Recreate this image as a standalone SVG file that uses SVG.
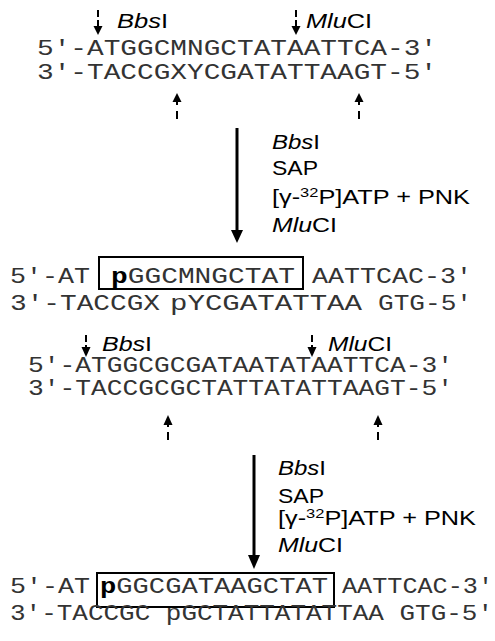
<svg xmlns="http://www.w3.org/2000/svg" width="495" height="641" viewBox="0 0 495 641">
<style>
.seq{font-family:"Liberation Mono",monospace;font-size:22px;fill:#333}
.b{font-weight:bold;fill:#000}
.lab{font-family:"Liberation Sans",Arial,sans-serif;font-size:20px;fill:#000}
.it{font-style:italic}
.sup{font-size:13px}
.ln{stroke:#000;stroke-width:2;fill:none}
.main{stroke:#000;stroke-width:3;fill:none}
.box{stroke:#000;stroke-width:2;fill:none}
.hd{fill:#000}
</style>
<rect width="495" height="641" fill="#fff"/>

<g id="section1">
  <g id="top-labels">
    <text class="lab" x="117" y="28" textLength="51" lengthAdjust="spacingAndGlyphs"><tspan class="it">Bbs</tspan>I</text>
    <text class="lab" x="306" y="28" textLength="66" lengthAdjust="spacingAndGlyphs"><tspan class="it">Mlu</tspan>CI</text>
  </g>
  <g id="seq1">
    <text class="seq" x="37" y="55" textLength="400" lengthAdjust="spacingAndGlyphs">5′-ATGGCMNGCTATAATTCA-3′</text>
    <text class="seq" x="37" y="79" textLength="400" lengthAdjust="spacingAndGlyphs">3′-TACCGXYCGATATTAAGT-5′</text>
  </g>
</g>

<g id="reagents1">
  <text class="lab" x="272" y="149" textLength="48" lengthAdjust="spacingAndGlyphs"><tspan class="it">Bbs</tspan>I</text>
  <text class="lab" x="272" y="175" textLength="46" lengthAdjust="spacingAndGlyphs">SAP</text>
  <text class="lab" x="272" y="204" textLength="198" lengthAdjust="spacingAndGlyphs">[γ-<tspan class="sup" dy="-7">32</tspan><tspan dy="7">P]ATP + PNK</tspan></text>
  <text class="lab" x="272" y="232" textLength="65" lengthAdjust="spacingAndGlyphs"><tspan class="it">Mlu</tspan>CI</text>
</g>

<g id="product1">
  <rect class="box" x="99" y="257" width="204" height="32"/>
  <text class="seq" x="10" y="283" textLength="80" lengthAdjust="spacingAndGlyphs">5′-AT</text>
  <text class="seq" x="111" y="283" textLength="184" lengthAdjust="spacingAndGlyphs"><tspan class="b">p</tspan>GGCMNGCTAT</text>
  <text class="seq" x="312" y="283" textLength="160" lengthAdjust="spacingAndGlyphs">AATTCAC-3′</text>
  <text class="seq" x="10" y="310" textLength="150" lengthAdjust="spacingAndGlyphs">3′-TACCGX</text>
  <text class="seq" x="170" y="310" textLength="192" lengthAdjust="spacingAndGlyphs">pYCGATATTAA</text>
  <text class="seq" x="378" y="310" textLength="94" lengthAdjust="spacingAndGlyphs">GTG-5′</text>
</g>

<g id="section2">
  <g id="mid-labels">
    <text class="lab" x="102" y="351" textLength="50" lengthAdjust="spacingAndGlyphs"><tspan class="it">Bbs</tspan>I</text>
    <text class="lab" x="328" y="351" textLength="64" lengthAdjust="spacingAndGlyphs"><tspan class="it">Mlu</tspan>CI</text>
  </g>
  <g id="seq2">
    <text class="seq" x="28" y="372" textLength="425" lengthAdjust="spacingAndGlyphs">5′-ATGGCGCGATAATATAATTCA-3′</text>
    <text class="seq" x="28" y="395" textLength="425" lengthAdjust="spacingAndGlyphs">3′-TACCGCGCTATTATATTAAGT-5′</text>
  </g>
</g>

<g id="reagents2">
  <text class="lab" x="278" y="475" textLength="48" lengthAdjust="spacingAndGlyphs"><tspan class="it">Bbs</tspan>I</text>
  <text class="lab" x="278" y="503" textLength="46" lengthAdjust="spacingAndGlyphs">SAP</text>
  <text class="lab" x="278" y="525" textLength="198" lengthAdjust="spacingAndGlyphs">[γ-<tspan class="sup" dy="-7">32</tspan><tspan dy="7">P]ATP + PNK</tspan></text>
  <text class="lab" x="278" y="552" textLength="65" lengthAdjust="spacingAndGlyphs"><tspan class="it">Mlu</tspan>CI</text>
</g>

<g id="product2">
  <rect class="box" x="97" y="573" width="237" height="34"/>
  <text class="seq" x="10" y="593" textLength="80" lengthAdjust="spacingAndGlyphs">5′-AT</text>
  <text class="seq" x="100" y="593" textLength="228" lengthAdjust="spacingAndGlyphs"><tspan class="b">p</tspan>GGCGATAAGCTAT</text>
  <text class="seq" x="342" y="593" textLength="151" lengthAdjust="spacingAndGlyphs">AATTCAC-3′</text>
  <text class="seq" x="10" y="620" textLength="483" lengthAdjust="spacingAndGlyphs">3′-TACCGC pGCTATTATATTAA GTG-5′</text>
</g>

<g id="connectors">
  <path class="ln" d="M98 10V17M98 20V27M296 10V17M296 20V27"/>
  <polygon class="hd" points="93.5,26 102.5,26 98,35"/>
  <polygon class="hd" points="291.5,26 300.5,26 296,35"/>
  <polygon class="hd" points="172.5,102 181.5,102 177,93"/>
  <polygon class="hd" points="354.5,102 363.5,102 359,93"/>
  <path class="ln" d="M177 101V105M177 111V119M359 101V105M359 111V119"/>
  <path class="main" d="M237 128V232"/>
  <polygon class="hd" points="231,230 243,230 237,243"/>
  <path class="ln" d="M86 335V342M86 345V349M312 335V342M312 345V349"/>
  <polygon class="hd" points="81.5,347 90.5,347 86,357"/>
  <polygon class="hd" points="307.5,347 316.5,347 312,357"/>
  <polygon class="hd" points="163.5,425 172.5,425 168,415"/>
  <polygon class="hd" points="373.5,425 382.5,425 378,415"/>
  <path class="ln" d="M168 424V427M168 432V440M378 424V427M378 432V440"/>
  <path class="main" d="M254 455V557"/>
  <polygon class="hd" points="248,555 260,555 254,569"/>
</g>
</svg>
